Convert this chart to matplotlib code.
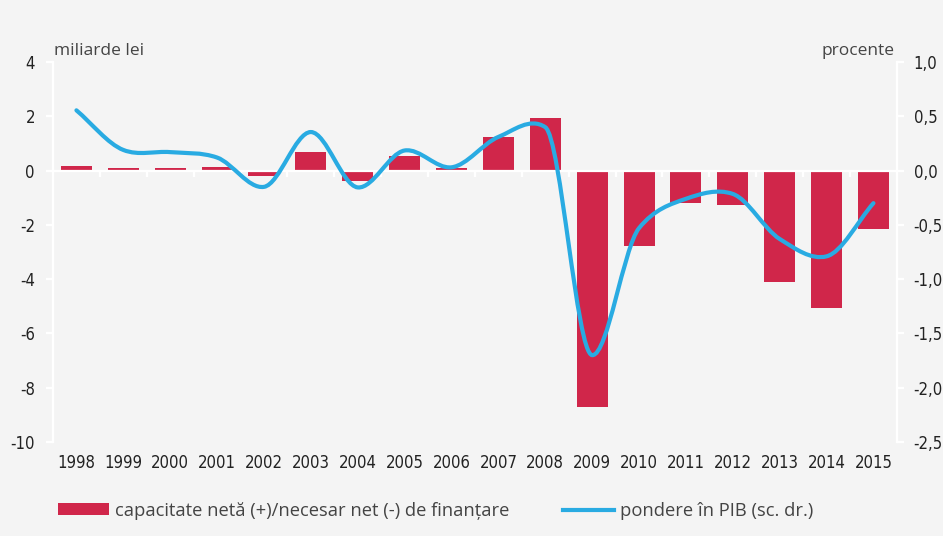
import math
import matplotlib.pyplot as plt
from matplotlib.path import Path
from matplotlib.patches import PathPatch, Patch
from matplotlib.lines import Line2D
from matplotlib.ticker import FuncFormatter

plt.rcParams["axes.unicode_minus"] = False

years = [str(y) for y in range(1998, 2016)]
net_lending = [0.18, 0.08, 0.10, 0.12, -0.20, 0.70, -0.37, 0.53, 0.10, 1.25,
               1.92, -8.70, -2.77, -1.20, -1.28, -4.10, -5.08, -2.17]
share_gdp = [0.555, 0.19, 0.17, 0.12, -0.15, 0.355, -0.155, 0.185, 0.03, 0.31,
             0.40, -1.70, -0.53, -0.26, -0.215, -0.63, -0.79, -0.30]

BAR = "#d0264a"
LINE = "#29abe2"
BG = "#f4f4f4"
TXT = "#222222"
SOFT = ["Open Sans", "DejaVu Sans"]


def smooth_path(xs, ys, yscale):
    # Hermite curve; each point's slope leans toward its shorter chord (screen space)
    n = len(xs)
    slopes = [(ys[i + 1] - ys[i]) / (xs[i + 1] - xs[i]) for i in range(n - 1)]
    lens = [math.hypot(xs[i + 1] - xs[i], (ys[i + 1] - ys[i]) * yscale)
            for i in range(n - 1)]
    m = [slopes[0]]
    for i in range(1, n - 1):
        l1, l2 = lens[i - 1], lens[i]
        m.append((l2 * slopes[i - 1] + l1 * slopes[i]) / (l1 + l2))
    m.append(slopes[-1])
    verts = [(xs[0], ys[0])]
    codes = [Path.MOVETO]
    for i in range(n - 1):
        h = (xs[i + 1] - xs[i]) / 3
        verts += [(xs[i] + h, ys[i] + m[i] * h),
                  (xs[i + 1] - h, ys[i + 1] - m[i + 1] * h),
                  (xs[i + 1], ys[i + 1])]
        codes += [Path.CURVE4] * 3
    return Path(verts, codes)


fig = plt.figure(figsize=(9.43, 5.36), dpi=100, facecolor=BG)
ax = fig.add_axes([0.0562, 0.1754, 0.8949, 0.7089])
ax.set_facecolor(BG)

x = list(range(len(years)))
ax.bar(x, net_lending, width=0.66, color=BAR, zorder=2)
ax.set_xlim(-0.5, len(years) - 0.5)
ax.set_ylim(-10, 4)
ax.set_yticks(range(-10, 5, 2))
ax.set_xticks(x, years)

ax.axhline(0, color="white", lw=1.6, zorder=3)
ax.vlines([i + 0.5 for i in range(len(years) - 1)], -0.22, 0,
          color="white", lw=1.6, zorder=3)

for s in ["top", "right", "bottom"]:
    ax.spines[s].set_visible(False)
ax.spines["left"].set_color("white")
ax.spines["left"].set_linewidth(1.6)
ax.tick_params(axis="y", colors="white", labelcolor=TXT, length=5, width=1.6,
               pad=8, labelsize=12)
ax.tick_params(axis="x", length=0, pad=9, labelcolor=TXT, labelsize=12)

ax2 = ax.twinx()
ax2.set_ylim(-2.5, 1.0)
ax2.set_yticks([-2.5, -2.0, -1.5, -1.0, -0.5, 0.0, 0.5, 1.0])
ax2.yaxis.set_major_formatter(FuncFormatter(lambda v, p: f"{v:.1f}".replace(".", ",")))
for s in ["top", "left", "bottom"]:
    ax2.spines[s].set_visible(False)
ax2.spines["right"].set_color("white")
ax2.spines["right"].set_linewidth(1.6)
ax2.tick_params(axis="y", colors="white", labelcolor=TXT, length=5, width=1.6,
                pad=7, labelsize=12)

for lab in ax.get_xticklabels() + ax.get_yticklabels() + ax2.get_yticklabels():
    lab.set_family("DejaVu Sans")
    lab.set_stretch("condensed")

# pixels per right-axis unit over pixels per category
yscale = (108 / 1.0) / 46.7
ax2.add_patch(PathPatch(smooth_path(x, share_gdp, yscale), facecolor="none",
                        edgecolor=LINE, lw=3, capstyle="round", zorder=4))

fig.text(0.0573, 0.905, "miliarde lei", family=SOFT, fontsize=12.5, color="#444444",
         va="center", ha="left")
fig.text(0.949, 0.905, "procente", family=SOFT, fontsize=12.5, color="#444444",
         va="center", ha="right")

handles = [Patch(facecolor=BAR, edgecolor="none"),
           Line2D([], [], color=LINE, lw=3)]
labels = ["capacitate netă (+)/necesar net (-) de finanțare",
          "pondere în PIB (sc. dr.)"]
fig.legend(handles, labels, loc="center left", bbox_to_anchor=(0.0615, 0.047),
           ncol=2, frameon=False, borderpad=0, borderaxespad=0,
           handlelength=2.8, handleheight=0.65, handletextpad=0.32,
           columnspacing=2.9, prop={"family": SOFT, "size": 13.2},
           labelcolor="#444444")

fig.savefig("out.png", dpi=100, facecolor=BG)
